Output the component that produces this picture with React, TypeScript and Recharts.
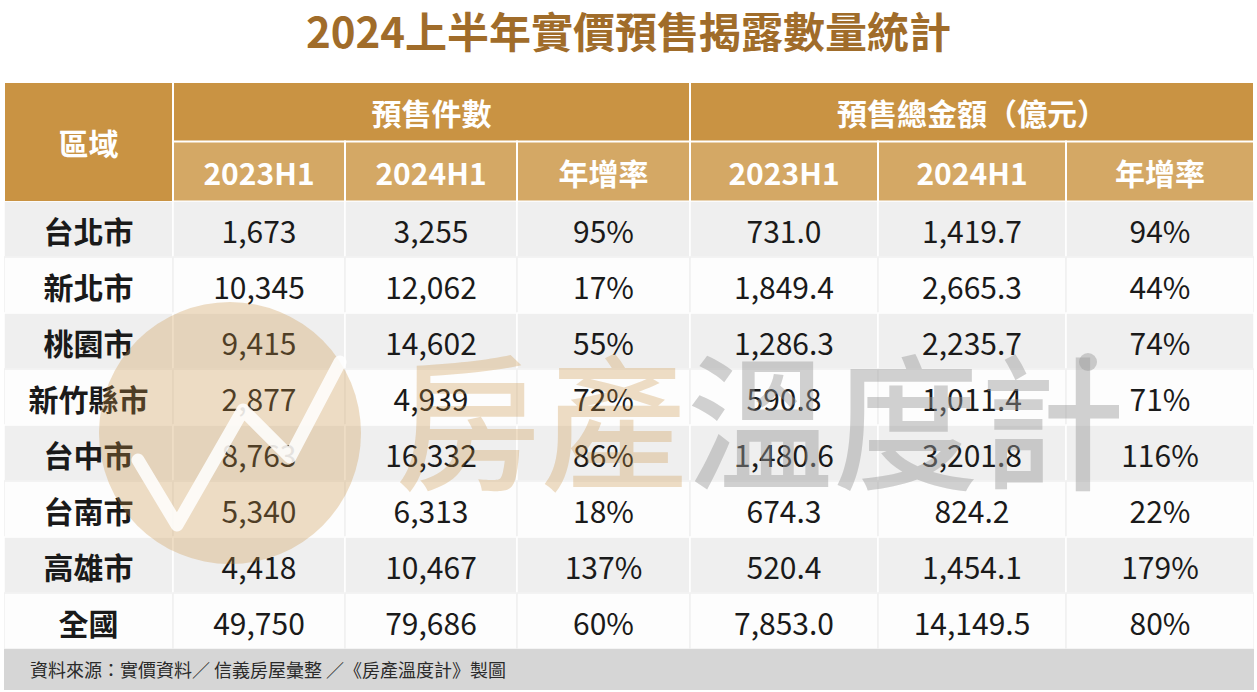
import React from "react";
import { BarChart, Bar, XAxis, YAxis } from "recharts";

// 文字
const TITLE = "2024上半年實價預售揭露數量統計";
const SOURCE = "資料來源：實價資料／ 信義房屋彙整 ／《房產溫度計》製圖";
const REGION_HEAD = "區域";
const GROUP_HEADS = ["預售件數", "預售總金額（億元）"];
const SUB_HEADS = ["2023H1", "2024H1", "年增率"];

// 資料
const REGIONS = ["台北市", "新北市", "桃園市", "新竹縣市", "台中市", "台南市", "高雄市", "全國"];
const COUNT_2023 = [1673, 10345, 9415, 2877, 8763, 5340, 4418, 49750];
const COUNT_2024 = [3255, 12062, 14602, 4939, 16332, 6313, 10467, 79686];
const COUNT_YOY = [95, 17, 55, 72, 86, 18, 137, 60];
const AMOUNT_2023 = [731.0, 1849.4, 1286.3, 590.8, 1480.6, 674.3, 520.4, 7853.0];
const AMOUNT_2024 = [1419.7, 2665.3, 2235.7, 1011.4, 3201.8, 824.2, 1454.1, 14149.5];
const AMOUNT_YOY = [94, 44, 74, 71, 116, 22, 179, 80];

// 版面
const W = 1257;
const H = 692;
const COL_W = [169, 172, 172, 173, 188, 188, 188];
const TABLE_W = COL_W.reduce((a, b) => a + b, 0);
const FONT = "'Noto Sans CJK TC', 'Noto Sans', sans-serif";
const GOLD_DARK = "#c99343";
const GOLD_LIGHT = "#d4a865";
const CELL_FONT = 30;

const fmtInt = (v: number) => v.toLocaleString("en-US");
const fmtDec = (v: number) =>
  v.toLocaleString("en-US", { minimumFractionDigits: 1, maximumFractionDigits: 1 });
const fmtPct = (v: number) => `${v}%`;

const headRows = [
  {
    key: "h1",
    cells: [REGION_HEAD, GROUP_HEADS[0], "", "", GROUP_HEADS[1], "", ""],
    widths: [COL_W[0], COL_W[1] + COL_W[2] + COL_W[3], 0, 0, COL_W[4] + COL_W[5] + COL_W[6], 0, 0],
  },
  { key: "h2", cells: ["", ...SUB_HEADS, ...SUB_HEADS], widths: COL_W },
];

const bodyRows = REGIONS.map((region, i) => ({
  key: region,
  cells: [
    region,
    fmtInt(COUNT_2023[i]),
    fmtInt(COUNT_2024[i]),
    fmtPct(COUNT_YOY[i]),
    fmtDec(AMOUNT_2023[i]),
    fmtDec(AMOUNT_2024[i]),
    fmtPct(AMOUNT_YOY[i]),
  ],
  widths: COL_W,
}));

const HeadCell = (col: number) => (props: any) => {
  const { x, y, width, height, payload } = props;
  if (!width || width <= 0) return <g />;
  const top = payload.key === "h1";
  if (!top && col === 0) return <g />;
  const h = top && col === 0 ? height * 2 : height;
  return (
    <g>
      <rect x={x} y={y} width={width} height={h} fill={top ? GOLD_DARK : GOLD_LIGHT} stroke="#fff" strokeWidth={2} />
      <text
        x={x + width / 2}
        y={y + h / 2}
        textAnchor="middle"
        dominantBaseline="central"
        fill="#fff"
        fontSize={CELL_FONT}
        fontWeight={700}
        fontFamily={FONT}
      >
        {payload.cells[col]}
      </text>
    </g>
  );
};

const BodyCell = (col: number) => (props: any) => {
  const { x, y, width, height, payload } = props;
  const shaded = REGIONS.indexOf(payload.key) % 2 === 0;
  return (
    <g>
      <rect
        x={x}
        y={y}
        width={width}
        height={height}
        fill={shaded ? "#efefef" : "#fdfdfd"}
        stroke={shaded ? "#fff" : "#f0f0f0"}
        strokeWidth={1.5}
      />
      <text
        x={x + width / 2}
        y={y + height / 2 + 1}
        textAnchor="middle"
        dominantBaseline="central"
        fill="#1a1a1a"
        fontSize={CELL_FONT}
        fontWeight={col === 0 ? 700 : 400}
        fontFamily={FONT}
      >
        {payload.cells[col]}
      </text>
    </g>
  );
};

const TableChart = ({ rows, height, cell }: { rows: any[]; height: number; cell: (c: number) => any }) => (
  <BarChart
    layout="vertical"
    width={TABLE_W}
    height={height}
    data={rows}
    margin={{ top: 0, right: 0, bottom: 0, left: 0 }}
    barCategoryGap={0}
    barGap={0}
  >
    <XAxis type="number" hide domain={[0, TABLE_W]} allowDataOverflow />
    <YAxis type="category" dataKey="key" hide />
    {COL_W.map((_w, c) => (
      <Bar
        key={c}
        dataKey={(d: any) => d.widths[c]}
        stackId="t"
        isAnimationActive={false}
        shape={cell(c)}
      />
    ))}
  </BarChart>
);

const App: React.FC = () => {
  return (
    <div
      style={{
        position: "absolute",
        left: 0,
        top: 0,
        width: W,
        height: H,
        background: "#fff",
        fontFamily: FONT,
        overflow: "hidden",
      }}
    >
      <div
        style={{
          position: "absolute",
          top: 0,
          left: 0,
          width: W,
          textAlign: "center",
          fontSize: 42,
          lineHeight: "60px",
          fontWeight: 700,
          color: "#a06c2a",
        }}
      >
        {TITLE}
      </div>

      <div style={{ position: "absolute", left: 4, top: 82 }}>
        <TableChart rows={headRows} height={119} cell={HeadCell} />
      </div>
      <div style={{ position: "absolute", left: 4, top: 201 }}>
        <TableChart rows={bodyRows} height={448} cell={BodyCell} />
      </div>

      <div
        style={{
          position: "absolute",
          left: 4,
          top: 649,
          width: TABLE_W,
          height: 41,
          background: "#d6d6d6",
          color: "#2a2a2a",
          fontSize: 18,
          lineHeight: "41px",
          paddingLeft: 26,
          boxSizing: "border-box",
        }}
      >
        {SOURCE}
      </div>

      {/* 浮水印 */}
      <svg
        width={W}
        height={H}
        style={{ position: "absolute", left: 0, top: 0, pointerEvents: "none" }}
      >
        <circle cx={230} cy={433} r={131} fill={GOLD_DARK} fillOpacity={0.3} />
        <polyline
          points="138,460 177,525 243,410 290,457 340,362"
          fill="none"
          stroke="#fff"
          strokeWidth={13}
          strokeLinejoin="round"
          strokeLinecap="round"
          opacity={0.85}
        />
        <text x={395} y={414} fontSize={146} fontWeight={500} fontFamily={FONT} dominantBaseline="central">
          <tspan fill={GOLD_DARK} fillOpacity={0.3}>房產</tspan>
          <tspan fill="#9a9a9a" fillOpacity={0.45}>溫度計</tspan>
        </text>
        <circle cx={1088} cy={362} r={9} fill="#9a9a9a" fillOpacity={0.45} />
      </svg>
    </div>
  );
};

export default App;
